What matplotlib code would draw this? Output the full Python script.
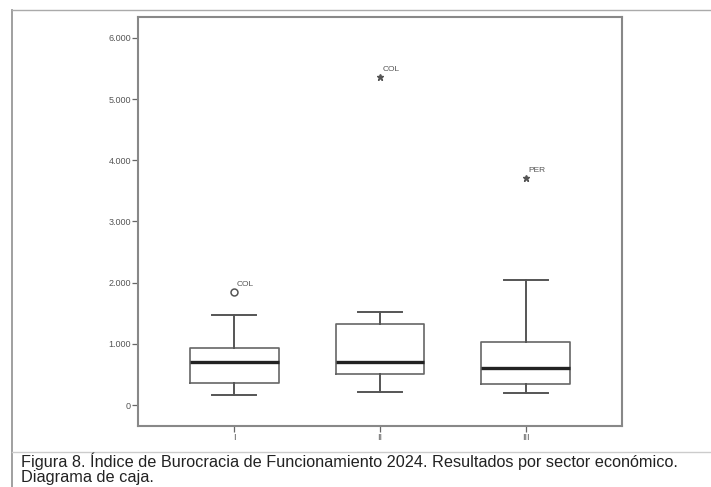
import matplotlib.pyplot as plt
from matplotlib.lines import Line2D

# box statistics (values in the axis units)
groups = ['I', 'II', 'III']
whis_lo = [165, 210, 196]
q1 = [360, 507, 343]
median = [700, 700, 605]
q3 = [930, 1320, 1030]
whis_hi = [1470, 1520, 2040]
outliers = [[1850], [5360], [3710]]
outlier_kind = ['o', '*', '*']
outlier_label = ['COL', 'COL', 'PER']

yticks = [0, 1000, 2000, 3000, 4000, 5000, 6000]
ytick_labels = ['0', '1.000', '2.000', '3.000', '4.000', '5.000', '6.000']

caption_lines = ['Figura 8. Índice de Burocracia de Funcionamiento 2024. '
                 'Resultados por sector económico.',
                 'Diagrama de caja.']

W, H = 711, 487
fig = plt.figure(figsize=(W / 100, H / 100), dpi=100)
plt.rcParams['font.family'] = ['Liberation Sans', 'DejaVu Sans']

ax = fig.add_axes([138 / W, (H - 426) / H, 484 / W, (426 - 17) / H])

stats = []
for i, g in enumerate(groups):
    stats.append(dict(label=g, whislo=whis_lo[i], q1=q1[i], med=median[i],
                      q3=q3[i], whishi=whis_hi[i], fliers=[]))

pos = list(range(1, len(groups) + 1))
ax.bxp(stats, positions=pos, widths=0.61, showfliers=False,
       boxprops=dict(color='#666666', linewidth=1.2),
       whiskerprops=dict(color='#555555', linewidth=1.4),
       capprops=dict(color='#555555', linewidth=1.4),
       medianprops=dict(color='#222222', linewidth=2.4))

for i, pts in enumerate(outliers):
    for v in pts:
        if outlier_kind[i] == 'o':
            ax.plot(pos[i], v, 'o', mfc='none', mec='#555555', ms=5, mew=1.1)
        else:
            ax.plot(pos[i], v, '*', color='#555555', ms=4.5)
        ax.annotate(outlier_label[i], (pos[i], v), xytext=(2, 4),
                    textcoords='offset points', fontsize=6, color='#555555')

ax.set_xlim(0.34, 3.66)
ax.set_ylim(-343, 6340)
ax.set_yticks(yticks)
ax.set_yticklabels(ytick_labels)
ax.set_xticks(pos)
ax.set_xticklabels(groups)
ax.tick_params(axis='both', labelsize=6.5, labelcolor='#555555',
               color='#666666', length=4, width=0.9, pad=1)
for s in ax.spines.values():
    s.set_color('#888888')
    s.set_linewidth(1.5)

# page frame and caption separator
fig.add_artist(Line2D([12 / W, 12 / W], [0, 1 - 10 / H], color='#999999', lw=1.3))
fig.add_artist(Line2D([12 / W, 1], [1 - 10 / H, 1 - 10 / H], color='#aaaaaa', lw=1.0))
fig.add_artist(Line2D([12 / W, 1], [1 - 452 / H, 1 - 452 / H], color='#cccccc', lw=1.0))

for line, base in zip(caption_lines, [467, 482]):
    fig.text(21 / W, 1 - base / H, line, fontsize=11.7, color='#222222',
             va='baseline', ha='left')

fig.savefig('out.png', dpi=100)
